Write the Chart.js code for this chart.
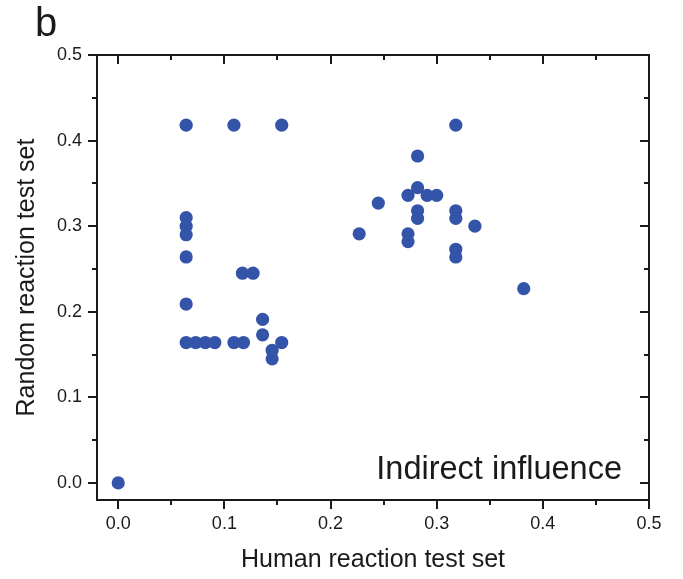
<!DOCTYPE html>
<html>
<head>
<meta charset="utf-8">
<script src="https://cdn.jsdelivr.net/npm/chart.js@4.4.0/dist/chart.umd.min.js"></script>
<style>
  html, body { margin: 0; padding: 0; background: #fff; }
</style>
</head>
<body>
<canvas id="scatter" width="683" height="579"></canvas>
<script>
// values (x = human reaction test set, y = random reaction test set)
const humanSet = [
  0.000,
  0.064, 0.109, 0.154,
  0.064, 0.064, 0.064, 0.064, 0.064,
  0.117, 0.127, 0.136, 0.136,
  0.064, 0.073, 0.082, 0.091, 0.109, 0.118, 0.154, 0.145, 0.145,
  0.318, 0.282, 0.282, 0.273, 0.291, 0.300, 0.245, 0.282, 0.282,
  0.318, 0.318, 0.336, 0.227, 0.273, 0.273, 0.318, 0.318, 0.382
];
const randomSet = [
  0.000,
  0.418, 0.418, 0.418,
  0.310, 0.300, 0.290, 0.264, 0.209,
  0.245, 0.245, 0.191, 0.173,
  0.164, 0.164, 0.164, 0.164, 0.164, 0.164, 0.164, 0.155, 0.145,
  0.418, 0.382, 0.345, 0.336, 0.336, 0.336, 0.327, 0.318, 0.309,
  0.318, 0.309, 0.300, 0.291, 0.291, 0.282, 0.273, 0.264, 0.227
];
const majorTicks = [0, 0.1, 0.2, 0.3, 0.4, 0.5];
const minorTicks = [0.05, 0.15, 0.25, 0.35, 0.45];

const fontFam = '"Liberation Sans", Arial, Helvetica, sans-serif';
const ink = '#1a1a1a';
const dotColor = '#3354a8';

const points = humanSet.map((x, i) => ({ x: x, y: randomSet[i] }));

// frame, inward/outward tick marks and the two text labels
const framePlugin = {
  id: 'frame',
  afterDraw(chart) {
    const ctx = chart.ctx;
    const a = chart.chartArea;
    const sx = chart.scales.x, sy = chart.scales.y;
    ctx.save();
    ctx.strokeStyle = ink;
    ctx.lineWidth = 2;
    ctx.strokeRect(a.left, a.top, a.right - a.left, a.bottom - a.top);

    const mark = (list, len) => {
      list.forEach(v => {
        const px = Math.round(sx.getPixelForValue(v));
        const py = Math.round(sy.getPixelForValue(v));
        ctx.beginPath();
        // bottom, outward
        ctx.moveTo(px, a.bottom); ctx.lineTo(px, a.bottom + len);
        // top, inward
        ctx.moveTo(px, a.top); ctx.lineTo(px, a.top + len);
        // left, outward
        ctx.moveTo(a.left, py); ctx.lineTo(a.left - len, py);
        // right, inward
        ctx.moveTo(a.right, py); ctx.lineTo(a.right - len, py);
        ctx.stroke();
      });
    };
    mark(majorTicks, 9);
    mark(minorTicks, 5);

    ctx.fillStyle = ink;
    ctx.textBaseline = 'alphabetic';
    ctx.textAlign = 'left';
    ctx.font = '40px ' + fontFam;
    ctx.fillText('b', 35, 36);
    ctx.textAlign = 'right';
    ctx.font = '32.5px ' + fontFam;
    ctx.fillText('Indirect influence', 622, 479);
    ctx.restore();
  }
};

new Chart(document.getElementById('scatter'), {
  type: 'scatter',
  data: {
    datasets: [{
      data: points,
      backgroundColor: dotColor,
      borderWidth: 0,
      pointRadius: 6.6,
      pointHoverRadius: 6.6
    }]
  },
  options: {
    responsive: false,
    animation: false,
    layout: { padding: { left: 0, right: 34, top: 55, bottom: 0 } },
    plugins: { legend: { display: false }, tooltip: { enabled: false } },
    scales: {
      x: {
        type: 'linear',
        min: -0.02,
        max: 0.5,
        grid: { display: false, drawTicks: false },
        border: { display: false },
        afterBuildTicks: s => { s.ticks = majorTicks.map(v => ({ value: v })); },
        afterFit: s => { s.height = 79; },
        ticks: {
          padding: 13,
          color: ink,
          font: { family: fontFam, size: 18 },
          callback: v => v.toFixed(1)
        },
        title: {
          display: true,
          text: 'Human reaction test set',
          color: ink,
          font: { family: fontFam, size: 25 },
          padding: { top: 0, bottom: 4 }
        }
      },
      y: {
        type: 'linear',
        min: -0.02,
        max: 0.5,
        grid: { display: false, drawTicks: false },
        border: { display: false },
        afterBuildTicks: s => { s.ticks = majorTicks.map(v => ({ value: v })); },
        afterFit: s => { s.width = 97; },
        ticks: {
          padding: 15,
          color: ink,
          font: { family: fontFam, size: 18 },
          callback: v => v.toFixed(1)
        },
        title: {
          display: true,
          text: 'Random reaction test set',
          color: ink,
          font: { family: fontFam, size: 25 },
          padding: { top: 12, bottom: 0 }
        }
      }
    }
  },
  plugins: [framePlugin]
});
</script>
</body>
</html>
